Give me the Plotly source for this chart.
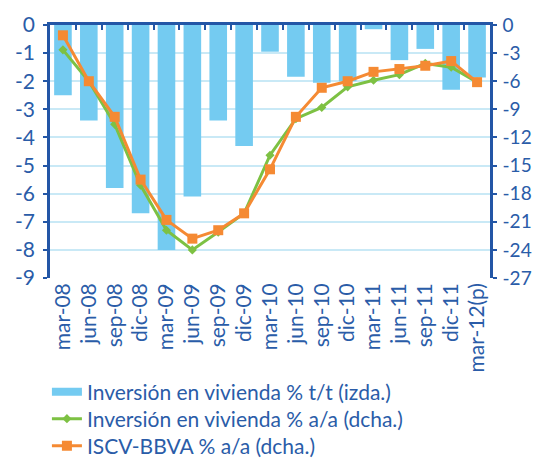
import plotly.graph_objects as go

categories = ["mar-08", "jun-08", "sep-08", "dic-08", "mar-09", "jun-09", "sep-09", "dic-09",
              "mar-10", "jun-10", "sep-10", "dic-10", "mar-11", "jun-11", "sep-11", "dic-11", "mar-12(p)"]
inv_tt = [-2.5, -3.4, -5.8, -6.7, -8.0, -6.1, -3.4, -4.3,
          -0.95, -1.84, -2.05, -2.0, -0.15, -1.25, -0.85, -2.3, -1.87]
inv_aa = [-2.65, -6.0, -10.6, -17.1, -21.9, -24.0, -22.1, -20.1,
          -13.9, -10.0, -8.8, -6.6, -5.9, -5.3, -4.1, -4.5, -6.1]
iscv = [-1.1, -6.0, -9.8, -16.5, -20.8, -22.8, -21.9, -20.1,
        -15.4, -9.8, -6.7, -6.0, -5.0, -4.7, -4.35, -3.85, -6.1]
left_ticks = list(range(0, -10, -1))
left_labels = ["0", "-1", "-2", "-3", "-4", "-5", "-6", "-7", "-8", "-9"]
right_ticks = list(range(0, -28, -3))
right_labels = ["0", "-3", "-6", "-9", "-12", "-15", "-18", "-21", "-24", "-27"]

BLUE = "#2A5CA8"
AXIS = "#2356A6"
GRID = "#C9E9F6"
BAR = "#74CBF1"
GREEN = "#7DC143"
ORANGE = "#F58A33"
FONT = "Lato"
N = len(categories)
H = 459

fig = go.Figure()
fig.add_trace(go.Bar(x=categories, y=inv_tt, name="Inversión en vivienda % t/t (izda.)",
                     marker=dict(color=BAR, line=dict(width=0)), showlegend=False))
# legend entry for the bars (wide flat swatch like the original)
fig.add_trace(go.Scatter(x=[None], y=[None], mode="lines", name="Inversión en vivienda % t/t (izda.)",
                         line=dict(color=BAR, width=8), hoverinfo="skip", legend="legend"))
fig.add_trace(go.Scatter(x=categories, y=inv_aa, yaxis="y2", mode="lines+markers",
                         name="Inversión en vivienda % a/a (dcha.)", legend="legend2",
                         line=dict(color=GREEN, width=3),
                         marker=dict(symbol="diamond", size=7, color=GREEN)))
fig.add_trace(go.Scatter(x=categories, y=iscv, yaxis="y2", mode="lines+markers",
                         name="ISCV-BBVA % a/a (dcha.)", legend="legend3",
                         line=dict(color=ORANGE, width=3),
                         marker=dict(symbol="square", size=10, color=ORANGE)))
# invisible helper trace for the top axis with boundary ticks
fig.add_trace(go.Scatter(x=[-0.5, N - 0.5], y=[0, 0], xaxis="x2", mode="lines",
                         line=dict(width=0), showlegend=False, hoverinfo="skip"))


def leg(ypix):
    return dict(x=-0.007, y=1 - ypix / H, xref="paper", yref="container",
                xanchor="left", yanchor="middle",
                font=dict(size=21, color=BLUE, family=FONT),
                itemwidth=30, bgcolor="rgba(0,0,0,0)")


tick_font = dict(size=21, color=BLUE, family=FONT)

fig.update_layout(
    width=534, height=H,
    margin=dict(l=50, r=44, t=25, b=181, autoexpand=False),
    paper_bgcolor="white", plot_bgcolor="white",
    font=dict(family=FONT, color=BLUE, size=20),
    bargap=0.32,
    showlegend=True,
    legend=leg(392), legend2=leg(419), legend3=leg(446),
    xaxis=dict(type="category", range=[-0.5, N - 0.5], tickangle=-90, automargin=False,
               showline=False, showgrid=False, ticks="", zeroline=False, tickfont=tick_font),
    xaxis2=dict(overlaying="x", side="top", anchor="y", range=[-0.5, N - 0.5], automargin=False,
                showline=True, linecolor=AXIS, linewidth=2.5, ticks="inside", ticklen=5,
                tickcolor=AXIS, tickwidth=1.5,
                tickvals=[i + 0.5 for i in range(N - 1)],
                showticklabels=False, showgrid=False, zeroline=False),
    yaxis=dict(range=[-9, 0], tickvals=left_ticks, ticktext=left_labels, automargin=False,
               showline=True, linecolor=AXIS, linewidth=2.5,
               ticks="outside", ticklen=4, tickcolor=AXIS, tickwidth=2, ticklabelstandoff=4,
               showgrid=True, gridcolor=GRID, gridwidth=2, zeroline=False, tickfont=tick_font),
    yaxis2=dict(range=[-27, 0], tickvals=right_ticks, ticktext=right_labels, overlaying="y",
                side="right", automargin=False,
                showline=True, linecolor=AXIS, linewidth=2.5,
                ticks="outside", ticklen=4, tickcolor=AXIS, tickwidth=2, ticklabelstandoff=2,
                showgrid=False, zeroline=False,
                tickfont=dict(size=19, color=BLUE, family=FONT)),
)

fig.write_html("out.html", config={"displayModeBar": False},
               post_script="document.body.style.margin='0px';")
